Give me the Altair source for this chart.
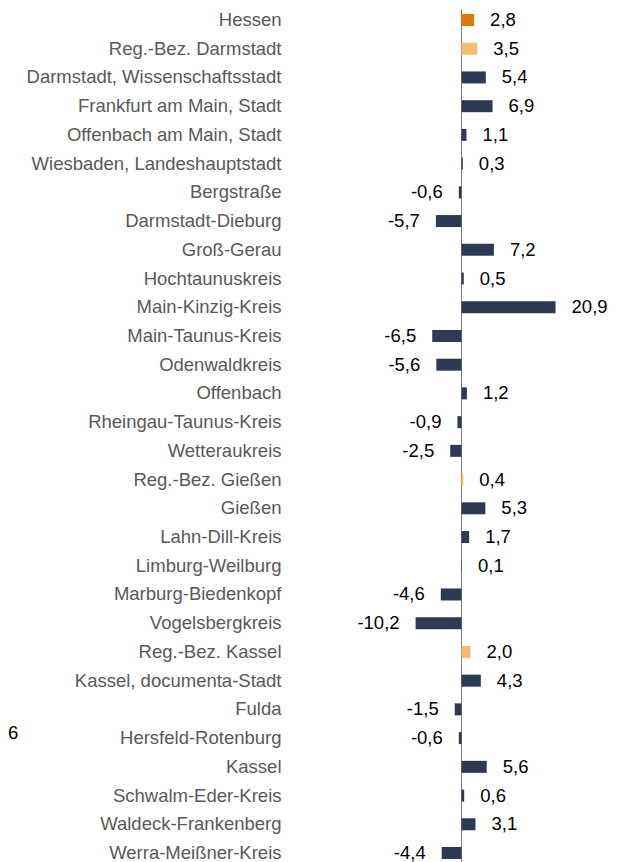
import altair as alt
import pandas as pd

regions = [
    "Hessen", "Reg.-Bez. Darmstadt", "Darmstadt, Wissenschaftsstadt", "Frankfurt am Main, Stadt",
    "Offenbach am Main, Stadt", "Wiesbaden, Landeshauptstadt", "Bergstraße", "Darmstadt-Dieburg",
    "Groß-Gerau", "Hochtaunuskreis", "Main-Kinzig-Kreis", "Main-Taunus-Kreis", "Odenwaldkreis",
    "Offenbach", "Rheingau-Taunus-Kreis", "Wetteraukreis", "Reg.-Bez. Gießen", "Gießen",
    "Lahn-Dill-Kreis", "Limburg-Weilburg", "Marburg-Biedenkopf", "Vogelsbergkreis",
    "Reg.-Bez. Kassel", "Kassel, documenta-Stadt", "Fulda", "Hersfeld-Rotenburg", "Kassel",
    "Schwalm-Eder-Kreis", "Waldeck-Frankenberg", "Werra-Meißner-Kreis",
]
values = [
    2.8, 3.5, 5.4, 6.9, 1.1, 0.3, -0.6, -5.7, 7.2, 0.5, 20.9, -6.5, -5.6, 1.2, -0.9, -2.5,
    0.4, 5.3, 1.7, 0.1, -4.6, -10.2, 2.0, 4.3, -1.5, -0.6, 5.6, 0.6, 3.1, -4.4,
]
kinds = []
for r in regions:
    if r == "Hessen":
        kinds.append("Land")
    elif r.startswith("Reg.-Bez."):
        kinds.append("RB")
    else:
        kinds.append("Kreis")

df = pd.DataFrame({
    "region": regions,
    "value": values,
    "zero": [0.0] * len(values),
    "kind": kinds,
    "label": [f"{v:.1f}".replace(".", ",") for v in values],
})

FS = 18.5
H = 855
W = 327
yscale = alt.Scale(paddingInner=0.582, paddingOuter=0.174)
xscale = alt.Scale(domain=[-38.33, 34.33], nice=False, zero=False)

base = alt.Chart(df)

zero = base.mark_rule(color="#808080", strokeWidth=1).encode(
    x=alt.X("zero:Q", scale=xscale, axis=None)
)

bars = base.mark_bar().encode(
    y=alt.Y("region:N", sort=regions, scale=yscale,
            axis=alt.Axis(title=None, ticks=False, domain=False, labelPadding=8,
                          labelFont="Liberation Sans", labelFontSize=FS, labelColor="#595959",
                          labelLimit=400, grid=False)),
    x=alt.X("value:Q", scale=xscale, axis=None),
    x2=alt.X2("zero:Q"),
    color=alt.Color("kind:N", scale=alt.Scale(domain=["Land", "RB", "Kreis"],
                                              range=["#E07B00", "#F5BE6E", "#2E3A52"]),
                    legend=None),
)

pos = base.transform_filter("datum.value >= 0").mark_text(
    align="left", baseline="middle", dx=16, font="Liberation Sans", fontSize=FS, color="#000000"
).encode(y=alt.Y("region:N", sort=regions), x=alt.X("value:Q"), text="label:N")

neg = base.transform_filter("datum.value < 0").mark_text(
    align="right", baseline="middle", dx=-16, font="Liberation Sans", fontSize=FS, color="#000000"
).encode(y=alt.Y("region:N", sort=regions), x=alt.X("value:Q"), text="label:N")

stray = base.transform_filter("datum.region == 'Fulda'").mark_text(
    align="left", baseline="middle", font="Liberation Sans", fontSize=FS, color="#000000",
    text="6", dx=-281, dy=24
).encode(x=alt.value(0), y=alt.Y("region:N", sort=regions))

chart = alt.layer(zero, bars, pos, neg, stray).properties(
    width=W, height=H,
    autosize=alt.AutoSizeParams(type="none"),
    padding={"left": 281, "top": 1, "right": 0, "bottom": 0},
).configure_view(stroke=None)

chart.save("out.html", embed_options={"renderer": "svg", "actions": False})
